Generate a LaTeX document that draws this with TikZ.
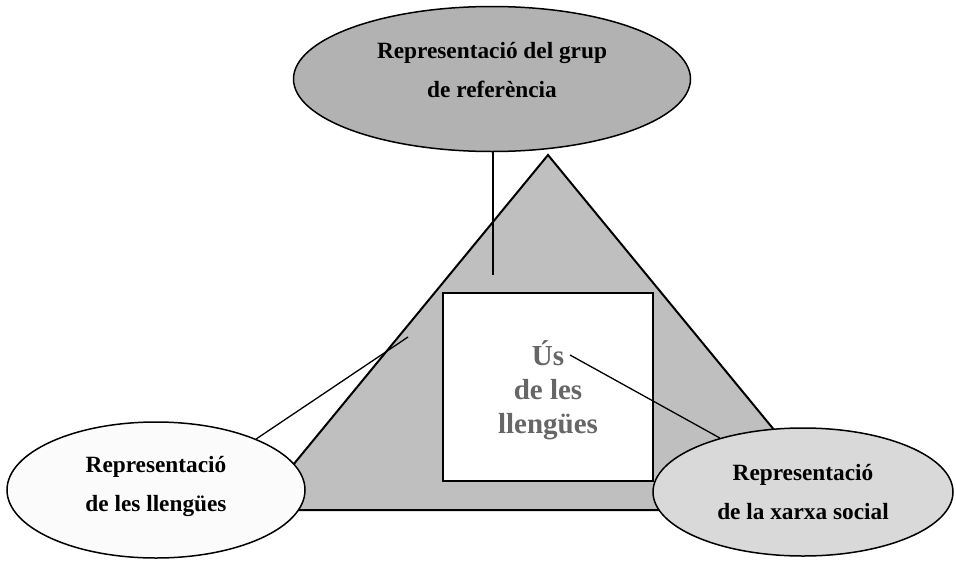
\documentclass[tikz,border=0pt]{standalone}
\usepackage{fontspec}
\setmainfont{Liberation Serif}
\usetikzlibrary{shapes.geometric}

\definecolor{grupfill}{gray}{0.70}
\definecolor{trianglefill}{gray}{0.75}
\definecolor{xarxafill}{gray}{0.85}
\definecolor{llenguesfill}{gray}{0.985}
\definecolor{ustext}{gray}{0.40}

\begin{document}
\begin{tikzpicture}[x=1pt, y=-1pt]
      \tikzstyle{repr}=[ellipse, draw=black, line width=1.5pt, inner sep=0pt, align=center, font=\fontsize{23.3}{39}\selectfont\bfseries]
      \tikzstyle{grup repr}=[repr, fill=grupfill, minimum width=397pt, minimum height=145pt, text depth=18pt]
      \tikzstyle{llengues repr}=[repr, fill=llenguesfill, minimum width=298pt, minimum height=136pt, text depth=13pt]
      \tikzstyle{xarxa repr}=[repr, fill=xarxafill, minimum width=300pt, minimum height=128pt]
      \tikzstyle{us box}=[rectangle, draw=black, fill=white, line width=1.8pt, minimum width=210pt, minimum height=188pt, align=center, text=ustext, text depth=0pt, font=\fontsize{29}{34}\selectfont\bfseries]
      \tikzstyle{link}=[draw=black, line width=1.3pt]

      \useasboundingbox (0,0) rectangle (956,560);

      \coordinate (apex) at (548,155);
      \coordinate (base left) at (256,510);
      \coordinate (base right) at (840,510);
      \draw[fill=trianglefill, line width=2pt] (apex) -- (base right) -- (base left) -- cycle;

      \node[us box] (us) at (548,387) {Ús\\de les\\llengües};

      \coordinate (grup end) at (493,275);
      \coordinate (llengues end) at (408,337);
      \coordinate (xarxa start) at (570,355);

      \node[grup repr] (grup) at (492,79) {Representació del grup\\de referència};
      \node[llengues repr] (llengues) at (156,490) {Representació\\de les llengües};
      \node[xarxa repr] (xarxa) at (803,492) {Representació\\de la xarxa social};

      \path (grup.south -| grup end) edge [link] (grup end);
      \path (llengues.27) edge [link] (llengues end);
      \path (xarxa start) edge [link] (xarxa.147);
\end{tikzpicture}
\end{document}
